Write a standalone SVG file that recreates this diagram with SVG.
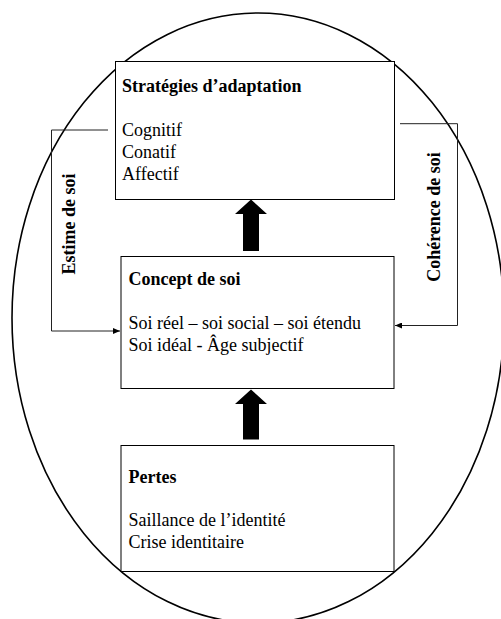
<svg xmlns="http://www.w3.org/2000/svg" width="501" height="619" viewBox="0 0 501 619">
<defs>
<style>
.box{fill:#fff;stroke:#000;stroke-width:1}
.conn{fill:none;stroke:#222;stroke-width:1}
.t{font-family:"Liberation Serif","Times New Roman",serif;font-size:18px;fill:#000}
.b{font-weight:bold}
.blk{fill:#000;stroke:none}
</style>
<marker id="ah" markerWidth="8" markerHeight="6" refX="7" refY="3" orient="auto" markerUnits="userSpaceOnUse">
<path d="M0,0 L7,3 L0,6 Z" fill="#000"/>
</marker>
</defs>
<ellipse id="boundary" cx="258" cy="318" rx="246" ry="305" fill="none" stroke="#000" stroke-width="1.6"/>
<g id="connectors">
<path class="conn" d="M108,130 H51.5 V331 H120" marker-end="url(#ah)"/>
<path class="conn" d="M400,123.7 H457.5 V325.5 H395" marker-end="url(#ah)"/>
<polygon class="blk" points="251,199.5 267,214 259,214 259,251 243,251 243,214 235,214"/>
<polygon class="blk" points="251,389.5 267,404 259,404 259,439.5 243,439.5 243,404 235,404"/>
<text class="t b" transform="translate(75,224) rotate(-90)" text-anchor="middle">Estime de soi</text>
<text class="t b" transform="translate(440,217) rotate(-90)" text-anchor="middle">Cohérence de soi</text>
</g>
<g id="strategies">
<rect class="box" x="115.5" y="61.5" width="279" height="138"/>
<text class="t b" x="122" y="92">Stratégies d’adaptation</text>
<text class="t" x="122" y="136">Cognitif</text>
<text class="t" x="122" y="158">Conatif</text>
<text class="t" x="122" y="180">Affectif</text>
</g>
<g id="concept">
<rect class="box" x="121" y="256.5" width="273" height="132"/>
<text class="t b" x="128.5" y="285">Concept de soi</text>
<text class="t" x="128.5" y="329">Soi réel – soi social – soi étendu</text>
<text class="t" x="128.5" y="351">Soi idéal - Âge subjectif</text>
</g>
<g id="pertes">
<rect class="box" x="121" y="445.5" width="273" height="126"/>
<text class="t b" x="128.5" y="483">Pertes</text>
<text class="t" x="128.5" y="526">Saillance de l’identité</text>
<text class="t" x="128.5" y="548">Crise identitaire</text>
</g>
</svg>
